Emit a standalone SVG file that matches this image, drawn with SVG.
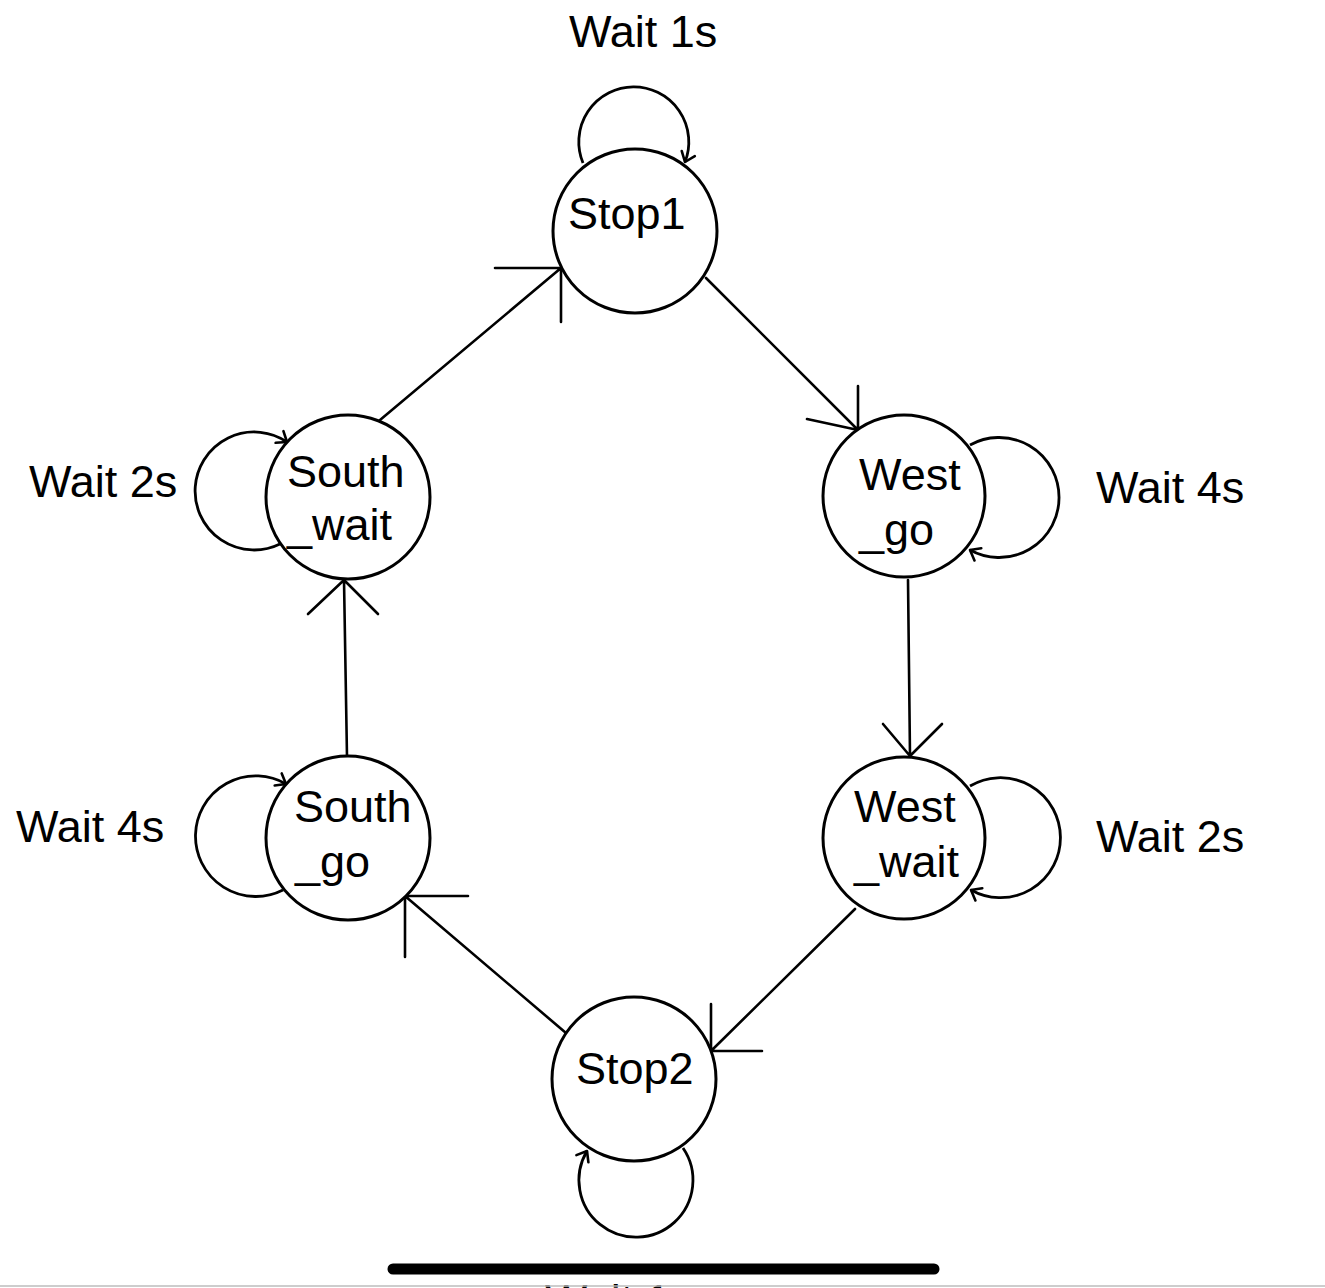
<svg xmlns="http://www.w3.org/2000/svg" width="1325" height="1288" viewBox="0 0 1325 1288">
<defs>
<style>
.node{fill:#fff;stroke:#000;stroke-width:3}
.edge{fill:none;stroke:#000;stroke-width:2.6;stroke-linecap:round;stroke-linejoin:round}
.loop{fill:none;stroke:#000;stroke-width:2.8;marker-end:url(#chev)}
.t{font-family:"Liberation Sans",Arial,Helvetica,sans-serif;font-size:45px;fill:#000}
</style>
<marker id="chev" markerWidth="30" markerHeight="30" viewBox="-15 -15 30 30" refX="0" refY="0" orient="auto" markerUnits="userSpaceOnUse">
<path d="M -9 -7 L 0 0 L -9 7" fill="none" stroke="#000" stroke-width="2.6" stroke-linecap="round" stroke-linejoin="round"/>
</marker>
</defs>
<rect width="1325" height="1288" fill="#fff"/>
<g id="connectors">
<path class="loop" d="M 583 163 A 55 55 0 1 1 685 162"/>
<path class="loop" d="M 970 445 A 60 60 0 1 1 970 550"/>
<path class="loop" d="M 280 544 A 59 59 0 1 1 287 442"/>
<path class="loop" d="M 283 890 A 60.3 60.3 0 1 1 286 784"/>
<path class="loop" d="M 970 786 A 60 60 0 1 1 971 890"/>
<path class="loop" d="M 683 1148 A 57 57 0 1 1 587 1151"/>
<path class="edge" d="M 380 420 L 561 268 M 495 268 L 561 268 L 561 322"/>
<path class="edge" d="M 706 278 L 858 430 M 807 419 L 858 430 L 858 386"/>
<path class="edge" d="M 908 580 L 910 756 M 883 724 L 910 756 L 942 724"/>
<path class="edge" d="M 855 909 L 711 1051 M 711 1004 L 711 1051 L 762 1051"/>
<path class="edge" d="M 566 1033 L 405 896 M 468 896 L 405 896 L 405 957"/>
<path class="edge" d="M 347 757 L 344 580 M 308 614 L 344 580 L 378 614"/>
</g>
<g id="stop1"><circle class="node" cx="635" cy="231" r="82"/><text class="t" x="568" y="229">Stop1</text></g>
<g id="west_go"><circle class="node" cx="904" cy="496" r="81"/><text class="t" x="859" y="490">West</text><text class="t" x="859" y="545">_go</text></g>
<g id="west_wait"><circle class="node" cx="904" cy="838" r="81"/><text class="t" x="854" y="822">West</text><text class="t" x="854" y="877">_wait</text></g>
<g id="stop2"><circle class="node" cx="634" cy="1079" r="82"/><text class="t" x="576" y="1084">Stop2</text></g>
<g id="south_go"><circle class="node" cx="348" cy="838" r="82"/><text class="t" x="294" y="822">South</text><text class="t" x="295" y="877">_go</text></g>
<g id="south_wait"><circle class="node" cx="348" cy="497" r="82"/><text class="t" x="287" y="487">South</text><text class="t" x="287" y="540">_wait</text></g>
<g id="labels">
<text class="t" x="569" y="47">Wait 1s</text>
<text class="t" x="29" y="497">Wait 2s</text>
<text class="t" x="1096" y="503">Wait 4s</text>
<text class="t" x="16" y="842">Wait 4s</text>
<text class="t" x="1096" y="852">Wait 2s</text>
<text class="t" x="545" y="1316">Wait 1s</text>
</g>
<line x1="393" y1="1269" x2="934" y2="1269" stroke="#000" stroke-width="11" stroke-linecap="round"/>
<line x1="0" y1="1286" x2="1325" y2="1286" stroke="#bdbdbd" stroke-width="1.5"/>
</svg>
